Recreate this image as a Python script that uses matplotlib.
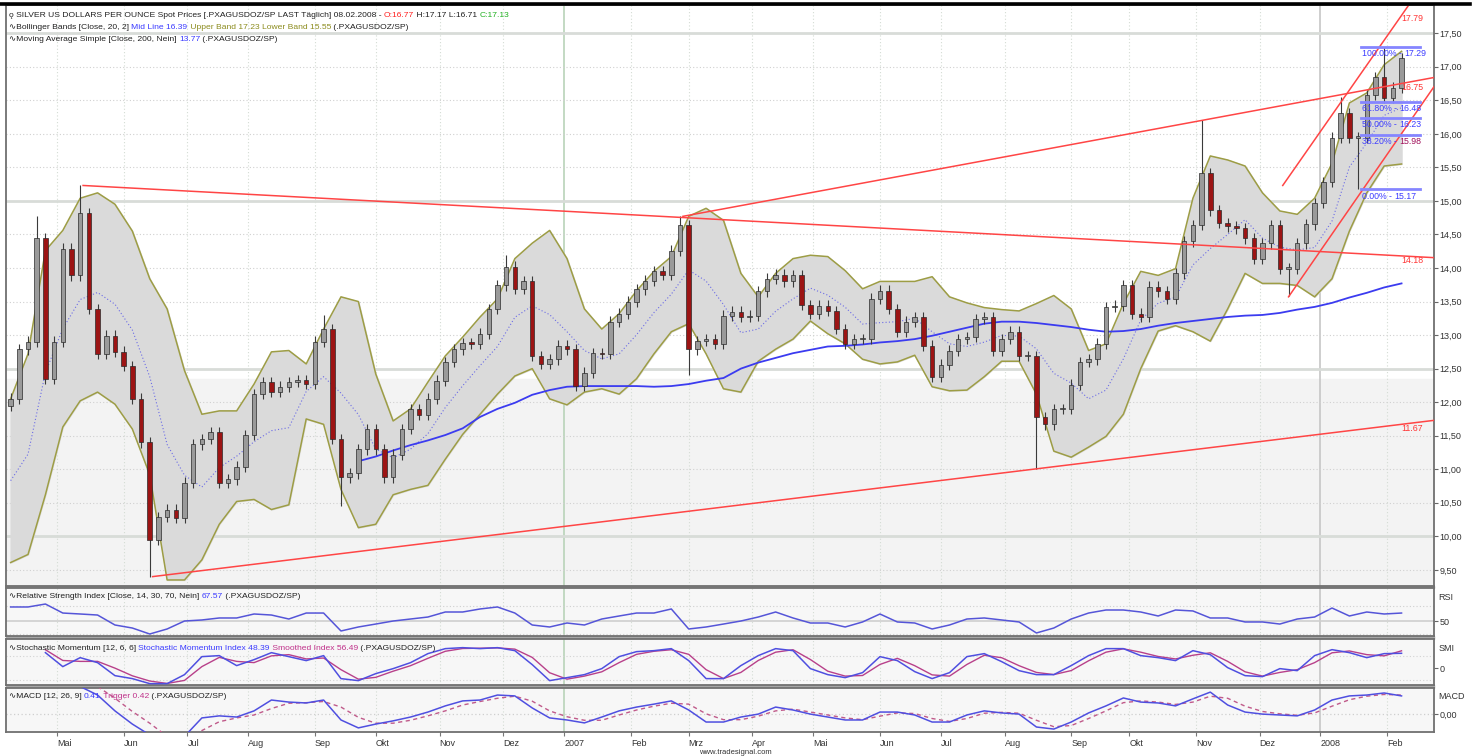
import numpy as np
import pandas as pd
import matplotlib.pyplot as plt
from matplotlib.lines import Line2D
from matplotlib.patches import Rectangle

plt.rcParams['font.family'] = ['Liberation Sans', 'DejaVu Sans']

# trading days shown on the chart
days = pd.bdate_range('2006-04-06', '2008-02-08')

# closes, one every 3rd trading day (last one = 08.02.2008)
closes = [12.05, 12.79, 12.90, 14.44, 12.35, 12.90, 14.29, 13.89, 14.82, 13.39,
          12.72, 12.99, 12.75, 12.54, 12.05, 11.40, 9.95, 10.29, 10.40, 10.28,
          10.80, 11.37, 11.45, 11.55, 10.80, 10.85, 11.04, 11.51, 12.12, 12.30,
          12.15, 12.23, 12.30, 12.33, 12.27, 12.90, 13.09, 11.45, 10.88, 10.94,
          11.30, 11.60, 11.30, 10.88, 11.22, 11.60, 11.90, 11.81, 12.05, 12.32,
          12.60, 12.79, 12.88, 12.87, 13.02, 13.39, 13.74, 14.02, 13.69, 13.80,
          12.69, 12.57, 12.64, 12.84, 12.79, 12.24, 12.44, 12.73, 12.72, 13.20,
          13.32, 13.50, 13.68, 13.81, 13.95, 13.90, 14.26, 14.64, 12.79, 12.91,
          12.94, 12.87, 13.29, 13.35, 13.27, 13.29, 13.65, 13.84, 13.90, 13.80,
          13.89, 13.45, 13.32, 13.44, 13.36, 13.09, 12.87, 12.94, 12.94, 13.54,
          13.66, 13.39, 13.05, 13.20, 13.27, 12.84, 12.38, 12.56, 12.77, 12.94,
          12.97, 13.24, 13.27, 12.77, 12.94, 13.05, 12.69, 12.69, 11.78, 11.67,
          11.90, 11.90, 12.26, 12.60, 12.64, 12.87, 13.42, 13.44, 13.74, 13.32,
          13.27, 13.72, 13.65, 13.54, 13.92, 14.40, 14.64, 15.41, 14.86, 14.67,
          14.62, 14.59, 14.44, 14.14, 14.37, 14.64, 13.99, 13.99, 14.37, 14.65,
          14.97, 15.28, 15.94, 16.31, 15.94, 15.94, 16.58, 16.84, 16.54, 16.69,
          17.13]
first_open = 11.95
# long wicks: candle number -> price
wick_high = {3: 14.78, 8: 15.23, 36: 13.30, 57: 14.20, 77: 14.77, 137: 16.20, 153: 16.55, 158: 17.29}
wick_low = {16: 9.40, 38: 10.45, 78: 12.40, 118: 11.00, 147: 13.58, 155: 15.17}

# indicator values, one every 6th trading day
bb_upper = [12.05, 12.72, 14.26, 14.56, 15.04, 15.12, 14.95, 14.55, 13.84, 13.39,
            12.47, 11.82, 11.87, 11.87, 12.27, 12.75, 12.77, 12.57, 13.09, 13.57,
            13.50, 12.42, 11.72, 11.90, 12.30, 12.69, 12.97, 13.27, 13.54, 14.14,
            14.37, 14.56, 14.14, 13.39, 13.09, 13.32, 13.66, 13.95, 14.17, 14.77,
            14.89, 14.71, 13.92, 13.57, 13.92, 14.14, 14.19, 14.17, 13.96, 13.69,
            13.80, 13.80, 13.80, 13.87, 13.57, 13.48, 13.41, 13.38, 13.36, 13.47,
            13.59, 13.39, 12.77, 12.87, 13.47, 13.95, 13.89, 13.99, 15.04, 15.67,
            15.61, 15.52, 15.12, 14.85, 14.80, 15.04, 15.56, 16.46, 16.61, 17.03,
            17.23]
bb_lower = [9.61, 9.73, 10.62, 11.63, 12.02, 12.15, 11.97, 11.60, 10.92, 9.35,
            9.35, 9.65, 10.18, 10.52, 10.55, 10.40, 10.47, 11.75, 11.67, 10.70,
            10.13, 10.18, 10.62, 10.70, 10.76, 11.15, 11.52, 11.82, 12.12, 12.39,
            12.50, 12.05, 11.96, 12.15, 12.20, 12.12, 12.35, 12.72, 13.05, 13.17,
            12.72, 12.20, 12.15, 12.61, 12.79, 12.94, 13.21, 13.02, 12.87, 12.64,
            12.57, 12.60, 12.70, 12.23, 12.17, 12.18, 12.38, 12.61, 12.61, 12.12,
            11.27, 11.18, 11.33, 11.49, 11.82, 12.50, 13.06, 13.14, 13.05, 12.91,
            13.39, 13.92, 13.77, 13.77, 13.74, 13.57, 13.84, 14.55, 15.12, 15.52,
            15.55]
ma200 = [np.nan] * 20 + [
            11.12, 11.19, 11.28, 11.36, 11.43, 11.51, 11.61, 11.78, 11.90, 11.99,
            12.11, 12.18, 12.23, 12.24, 12.24, 12.24, 12.24, 12.23, 12.24, 12.27,
            12.32, 12.36, 12.50, 12.59, 12.66, 12.73, 12.78, 12.83, 12.84, 12.86,
            12.89, 12.91, 12.94, 12.99, 13.05, 13.11, 13.17, 13.20, 13.20, 13.18,
            13.15, 13.12, 13.08, 13.05, 13.06, 13.09, 13.14, 13.18, 13.21, 13.24,
            13.27, 13.29, 13.30, 13.33, 13.38, 13.42, 13.48, 13.56, 13.63, 13.71,
            13.77]
rsi = [69.3, 69.3, 73.3, 61.1, 59.8, 58.4, 44.9, 40.8, 32.7, 39.5,
       50.3, 51.7, 54.4, 54.4, 59.8, 58.4, 53.0, 61.1, 61.1, 36.8,
       42.2, 46.2, 50.3, 53.0, 55.7, 62.5, 62.5, 66.6, 69.3, 61.1,
       44.9, 42.2, 47.6, 44.9, 53.0, 57.1, 61.1, 61.1, 66.6, 39.5,
       42.2, 46.2, 50.3, 55.7, 62.5, 54.4, 47.6, 47.6, 42.2, 49.0,
       59.8, 49.0, 47.6, 39.5, 44.9, 53.0, 54.4, 51.7, 49.0, 34.1,
       40.8, 53.0, 61.1, 65.2, 65.2, 62.5, 57.1, 65.2, 63.9, 54.4,
       54.4, 49.0, 49.0, 46.2, 53.0, 55.7, 67.9, 57.1, 62.5, 59.8, 61.1]
smi = [np.nan, np.nan, 50.5, 4.9, 34.2, 17.9, -24.5, -34.2, -50.5, -50.5,
       -21.2, 37.5, 40.8, 8.2, 27.7, 50.5, 37.5, 24.5, 40.8, -34.2,
       -40.8, -17.9, -1.6, 17.9, 47.3, 63.6, 66.8, 63.6, 66.8, 57.0,
       11.4, -40.8, -31.0, -21.2, -1.6, 37.5, 53.8, 57.0, 63.6, 24.5,
       -34.2, -34.2, 8.2, 40.8, 63.6, 57.0, -1.6, -21.2, -31.0, -14.7,
       37.5, 24.5, -11.4, -34.2, -14.7, 37.5, 47.3, 21.2, -8.2, -21.2,
       -21.2, 8.2, 40.8, 63.6, 63.6, 40.8, 34.2, 24.5, 57.0, 44.0,
       1.6, -24.5, -27.7, -1.6, -8.2, 40.8, 60.3, 50.5, 34.2, 47.3, 48.4]
smi_smooth = [np.nan, np.nan, 60, 25, 22, 22, 0, -25, -42, -50,
              -40, 5, 35, 22, 18, 40, 44, 30, 33, -5,
              -36, -30, -10, 8, 32, 55, 64, 65, 66, 62,
              35, -15, -36, -26, -12, 18, 45, 55, 60, 45,
              -5, -34, -14, 25, 52, 60, 28, -10, -26, -24,
              12, 32, 8, -22, -26, 12, 42, 34, 8, -14,
              -21, -8, 24, 52, 63, 52, 38, 30, 42, 50,
              22, -12, -26, -14, -5, 18, 50, 56, 44, 40, 56.5]
macd = [np.nan, np.nan, np.nan, np.nan, 0.95, 0.66, 0.12, -0.33, -0.70, -0.85,
        -0.75, -0.12, -0.05, -0.09, 0.12, 0.49, 0.42, 0.39, 0.49, -0.19,
        -0.46, -0.33, -0.22, -0.09, 0.08, 0.29, 0.46, 0.49, 0.66, 0.63,
        0.22, -0.12, -0.19, -0.29, -0.09, 0.12, 0.25, 0.35, 0.46, 0.15,
        -0.26, -0.26, -0.09, 0.01, 0.25, 0.15, 0.01, -0.09, -0.19, -0.19,
        0.08, 0.08, -0.02, -0.26, -0.26, -0.02, 0.12, 0.05, 0.01, -0.43,
        -0.50, -0.26, 0.05, 0.29, 0.56, 0.42, 0.39, 0.29, 0.53, 0.76,
        0.32, 0.08, 0.01, -0.02, -0.05, 0.15, 0.49, 0.63, 0.66, 0.73, 0.63]
macd_trigger = [np.nan, np.nan, np.nan, np.nan, np.nan, 0.95, 0.55, 0.10, -0.30, -0.75,
                -0.85, -0.55, -0.25, -0.12, -0.02, 0.20, 0.38, 0.40, 0.44, 0.25,
                -0.10, -0.30, -0.30, -0.20, -0.05, 0.12, 0.32, 0.44, 0.55, 0.62,
                0.45, 0.12, -0.08, -0.20, -0.20, -0.02, 0.15, 0.28, 0.38, 0.35,
                0.02, -0.18, -0.18, -0.06, 0.12, 0.18, 0.08, -0.02, -0.12, -0.18,
                -0.06, 0.05, 0.03, -0.14, -0.24, -0.14, 0.04, 0.07, 0.04, -0.20,
                -0.42, -0.38, -0.14, 0.12, 0.40, 0.46, 0.42, 0.34, 0.42, 0.62,
                0.55, 0.28, 0.10, 0.02, -0.03, 0.05, 0.28, 0.50, 0.62, 0.68, 0.66]

# drawn trend lines: two anchor points (trading day, price)
trend_lines = [((26, 15.23), (481, 14.18)),
               ((233, 14.77), (481, 16.75)),
               ((50, 9.40), (481, 11.67)),
               ((442, 13.57), (492, 16.69)),
               ((440, 15.23), (478, 17.58))]
trend_labels = [17.79, 16.75, 14.18, 11.67]
fib_names = ['100.00%', '61.80%', '50.00%', '38.20%', '0.00%']
fib_values = [17.29, 16.48, 16.23, 15.98, 15.17]

W, H = 1475, 756
fig = plt.figure(figsize=(W / 100, H / 100), dpi=100)
fig.patch.set_facecolor('white')


def box(x0, y0, x1, y1):
    return [x0 / W, 1 - y1 / H, (x1 - x0) / W, (y1 - y0) / H]


ax = fig.add_axes(box(6, 5, 1434, 586))
ax_rsi = fig.add_axes(box(6, 588, 1434, 636), sharex=ax)
ax_smi = fig.add_axes(box(6, 639, 1434, 685), sharex=ax)
ax_macd = fig.add_axes(box(6, 688, 1434, 732), sharex=ax)
panels = [ax, ax_rsi, ax_smi, ax_macd]

# separators between the panels
for y0, y1 in [(586, 588), (636, 639), (685, 688)]:
    fig.add_artist(Rectangle((6 / W, 1 - y1 / H), 1428 / W, (y1 - y0) / H,
                             transform=fig.transFigure, color='#a6a6a6', zorder=0))
fig.add_artist(Line2D([0, 1470 / W], [1 - 4 / H] * 2, color='black', lw=2.6))

n = len(days)
xc = np.arange(n - 1, -1, -3)[::-1]
xg = np.arange(n - 1, -1, -6)[::-1]

# month ticks (German names)
month_names = {2: 'Feb', 3: 'Mrz', 4: 'Apr', 5: 'Mai', 6: 'Jun', 7: 'Jul',
               8: 'Aug', 9: 'Sep', 10: 'Okt', 11: 'Nov', 12: 'Dez'}
ticks, tick_labels, year_ticks = [], [], []
for i in range(1, n):
    if days[i].month != days[i - 1].month:
        ticks.append(i)
        if days[i].month == 1:
            tick_labels.append(str(days[i].year))
            year_ticks.append(i)
        else:
            tick_labels.append(month_names[days[i].month])

for a in panels:
    a.set_facecolor('#f7f7f7' if a is not ax else 'white')
    for s in a.spines.values():
        s.set_color('#707070')
        s.set_linewidth(1.3)
    a.yaxis.tick_right()
    a.tick_params(axis='y', length=3, color='#666666', labelsize=6.5, labelcolor='#333333', pad=1)
    a.tick_params(axis='x', length=0, labelbottom=False)
    for t in ticks:
        if t in year_ticks:
            a.axvline(t, color='#b9d3b9' if t == year_ticks[0] else '#c6c6c6', lw=1.2, zorder=0.5)
        else:
            a.axvline(t, color='#d4dcd4', lw=0.8, ls=(0, (1, 2)), zorder=0.5)

ax.set_xlim(-0.6, 492.2)

# ---- price panel ----
ylo, yhi = 9.26, 17.92
ax.set_ylim(ylo, yhi)
ax.axhspan(ylo, 12.35, color='#f3f3f3', zorder=0)
for v in np.arange(9.5, 17.6, 0.5):
    if abs(v / 2.5 - round(v / 2.5)) < 1e-6:
        ax.axhline(v, color='#d8dcd8', lw=2.0, zorder=0.6)
    else:
        ax.axhline(v, color='#d0d0d0', lw=0.8, ls=(0, (1, 2)), zorder=0.6)
yt = np.arange(9.5, 17.6, 0.5)
ax.set_yticks(yt)
ax.set_yticklabels([f'{v:.2f}'.replace('.', ',') for v in yt])

up_b = np.array(bb_upper)
lo_b = np.array(bb_lower)
ax.fill_between(xg, lo_b, up_b, color='#dadada', zorder=1)
ax.plot(xg, up_b, color='#9d9d45', lw=1.1, zorder=2)
ax.plot(xg, lo_b, color='#9d9d45', lw=1.1, zorder=2)
ax.plot(xg, (up_b + lo_b) / 2, color='#6b6be6', lw=0.8, ls=(0, (1, 2)), zorder=2)
ax.plot(xg, ma200, color='#3b3bf0', lw=1.3, zorder=2.5)

c = np.array(closes)
o = np.r_[first_open, c[:-1]]
hi = np.maximum(o, c) + 0.08
lo = np.minimum(o, c) - 0.08
for k, v in wick_high.items():
    hi[k] = v
for k, v in wick_low.items():
    lo[k] = v
up = c >= o
body = np.maximum(np.abs(c - o), 0.02)
ax.vlines(xc, lo, hi, color='#3a3a3a', lw=0.8, zorder=3)
ax.bar(xc[up], body[up], bottom=np.minimum(o, c)[up], width=1.55,
       color='#9a9a9a', edgecolor='#2a2a2a', lw=0.5, zorder=4)
ax.bar(xc[~up], body[~up], bottom=np.minimum(o, c)[~up], width=1.55,
       color='#9c1414', edgecolor='#2a2a2a', lw=0.5, zorder=4)

for (x0, y0), (x1, y1) in trend_lines:
    slope = (y1 - y0) / (x1 - x0)
    ax.plot([x0, 492.2], [y0, y0 + slope * (492.2 - x0)], color='#ff4545', lw=1.1, zorder=5)
for v in trend_labels:
    ax.text(481, v, f'{v:.2f}', color='#ff3535', fontsize=6.3, va='top', ha='left', zorder=6)

for name, v in zip(fib_names, fib_values):
    ax.plot([467, 487.5], [v, v], color='#8585ff', lw=2.0, zorder=5)
    t = ax.text(467.3, v - 0.03, f'{name} - ', color='#3c3cff', fontsize=6.3,
                va='top', ha='left', zorder=6)
    ax.annotate(f'{v:.2f}', xy=(1, 0), xycoords=t, va='bottom', ha='left', fontsize=6.3,
                color='#a0105a' if name == '38.20%' else '#3c3cff', zorder=6)


def colored(a, x, y, parts, size=6.1):
    # several coloured pieces of text in one row, placed at pixel (x, y)
    t = a.text(x / W, 1 - y / H, parts[0][0], color=parts[0][1], fontsize=size,
               transform=fig.transFigure, va='baseline', ha='left', zorder=10)
    for s, col in parts[1:]:
        t = a.annotate(s, xy=(1, 0), xycoords=t, va='bottom', ha='left',
                       fontsize=size, color=col, zorder=10)


black, blue, olive, mag = '#202020', '#3a3aff', '#8c8c1e', '#c0308a'
colored(ax, 9, 17, [('ǫ SILVER US DOLLARS PER OUNCE Spot Prices [.PXAGUSDOZ/SP LAST Täglich] 08.02.2008 - ', black),
                    ('O:16.77', '#ff2020'), (' H:17.17 L:16.71 ', black), ('C:17.13', '#20b020')])
colored(ax, 9, 29, [('∿Bollinger Bands [Close, 20, 2] ', black), ('Mid Line 16.39', blue),
                    (' Upper Band 17.23 Lower Band 15.55', olive), (' (.PXAGUSDOZ/SP)', black)])
colored(ax, 9, 41, [('∿Moving Average Simple [Close, 200, Nein] ', black), ('13.77', blue),
                    (' (.PXAGUSDOZ/SP)', black)])

# ---- RSI ----
ax_rsi.set_ylim(30, 95)
ax_rsi.axhline(50, color='#cfcfcf', lw=1.2, zorder=0.6)
for v in [70, 33]:
    ax_rsi.axhline(v, color='#cfcfcf', lw=0.8, ls=(0, (1, 2)), zorder=0.6)
ax_rsi.plot(xg, rsi, color='#5555d8', lw=1.1, zorder=3)
ax_rsi.set_yticks([50])
ax_rsi.set_yticklabels(['50'])
ax_rsi.text(1.003, 0.9, 'RSI', transform=ax_rsi.transAxes, fontsize=6.5, color='#333333', va='top')
colored(ax_rsi, 9, 598, [('∿Relative Strength Index [Close, 14, 30, 70, Nein] ', black), ('67.57', blue),
                         (' (.PXAGUSDOZ/SP)', black)])

# ---- SMI ----
ax_smi.set_ylim(-55, 95)
for v in [40, -40]:
    ax_smi.axhline(v, color='#d3d3d3', lw=0.8, ls=(0, (1, 2)), zorder=0.6)
ax_smi.plot(xg, smi_smooth, color='#b8408a', lw=1.0, zorder=3)
ax_smi.plot(xg, smi, color='#4f4fe0', lw=1.1, zorder=3)
ax_smi.set_yticks([0])
ax_smi.set_yticklabels(['0'])
ax_smi.text(1.003, 0.9, 'SMI', transform=ax_smi.transAxes, fontsize=6.5, color='#333333', va='top')
colored(ax_smi, 9, 650, [('∿Stochastic Momentum [12, 6, 6] ', black), ('Stochastic Momentum Index 48.39', blue),
                         (' Smoothed Index 56.49', mag), (' (.PXAGUSDOZ/SP)', black)])

# ---- MACD ----
ax_macd.set_ylim(-0.6, 0.9)
ax_macd.axhline(0, color='#cfcfcf', lw=0.9, ls=(0, (1, 2)), zorder=0.6)
ax_macd.plot(xg, macd_trigger, color='#c05a8a', lw=1.0, ls=(0, (3, 2.5)), zorder=3)
ax_macd.plot(xg, macd, color='#4f4fe0', lw=1.1, zorder=3)
ax_macd.set_yticks([0])
ax_macd.set_yticklabels(['0,00'])
ax_macd.text(1.003, 0.9, 'MACD', transform=ax_macd.transAxes, fontsize=6.5, color='#333333', va='top')
colored(ax_macd, 9, 698, [('∿MACD [12, 26, 9] ', black), ('0.41', blue), (' Trigger 0.42', mag),
                          (' (.PXAGUSDOZ/SP)', black)])

ax_macd.set_xticks(ticks)
ax_macd.set_xticklabels(tick_labels)
ax_macd.tick_params(axis='x', labelbottom=True, length=3, direction='out', color='#777777',
                    labelsize=6.5, labelcolor='#333333', pad=2)
for lab in ax_macd.get_xticklabels():
    lab.set_ha('left')

fig.text(735 / W, 1 - 752 / H, 'www.tradesignal.com', fontsize=5.5, color='#333333',
         ha='center', va='center')

fig.savefig('out.png', dpi=100)
